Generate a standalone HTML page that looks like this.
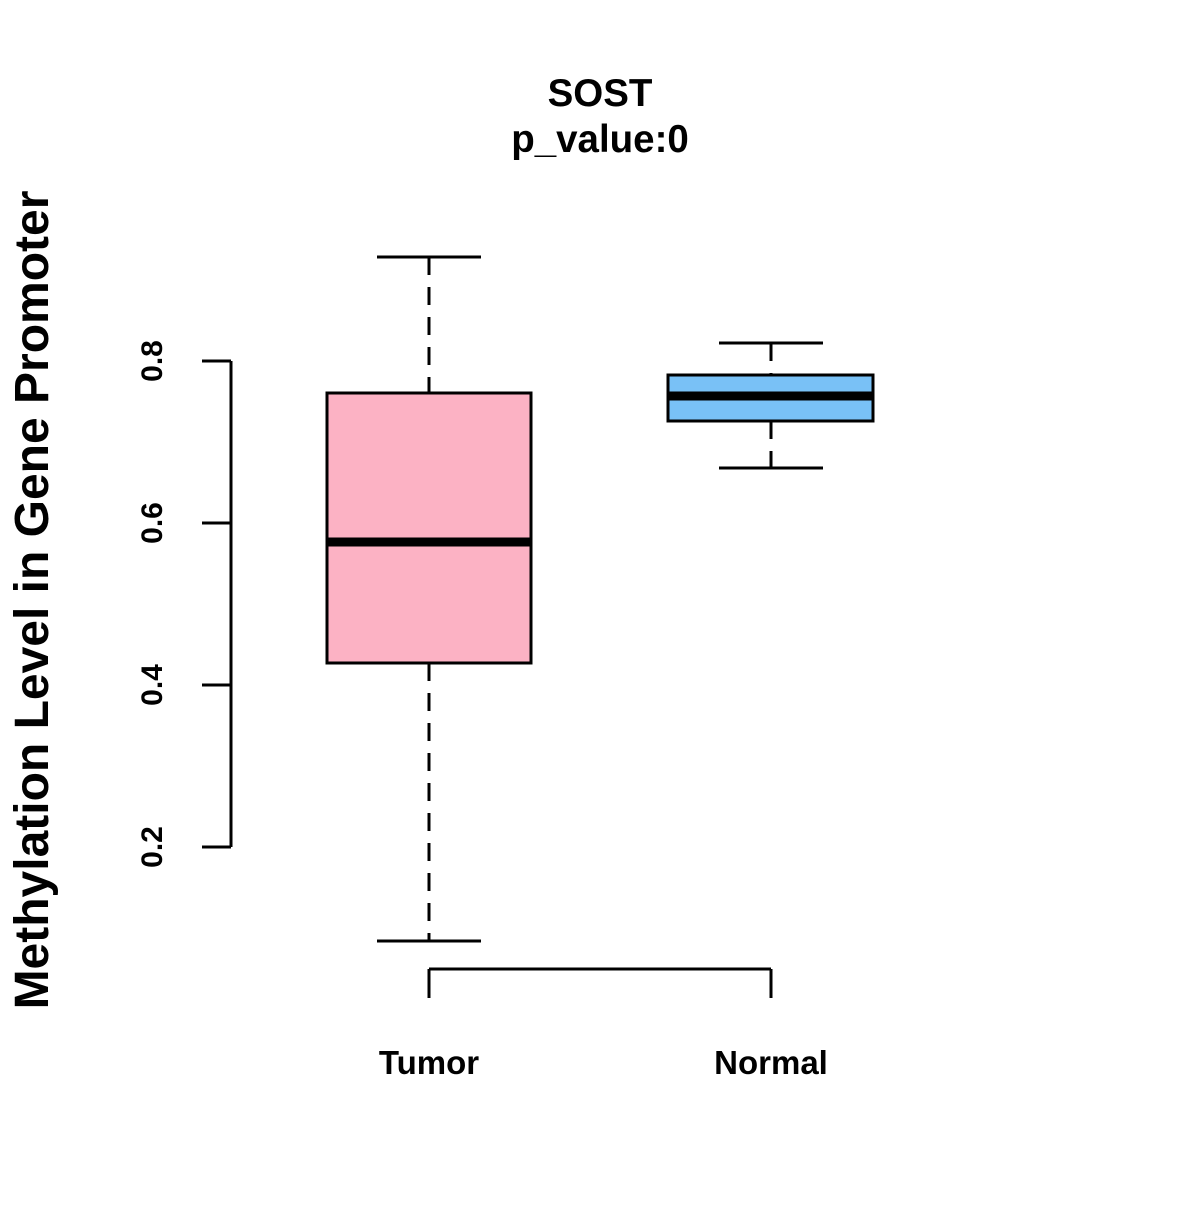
<!DOCTYPE html>
<html><head><meta charset="utf-8"><style>html,body{margin:0;padding:0;background:#fff}</style></head>
<body>
<svg width="1200" height="1200" xmlns="http://www.w3.org/2000/svg" font-family="Liberation Sans, sans-serif" font-weight="bold">
<rect width="1200" height="1200" fill="#fff"/>
<text x="600" y="106" font-size="38.5" text-anchor="middle">SOST</text>
<text x="600" y="152" font-size="38.5" text-anchor="middle">p_value:0</text>
<g stroke="#000" stroke-width="3" fill="none">
<line x1="231" y1="361" x2="231" y2="847"/>
<line x1="202" y1="361" x2="231" y2="361"/>
<line x1="202" y1="523" x2="231" y2="523"/>
<line x1="202" y1="685" x2="231" y2="685"/>
<line x1="202" y1="847" x2="231" y2="847"/>
<line x1="429" y1="969" x2="771" y2="969"/>
<line x1="429" y1="969" x2="429" y2="998"/>
<line x1="771" y1="969" x2="771" y2="998"/>
<line x1="429" y1="257" x2="429" y2="393" stroke-dasharray="18,12"/>
<line x1="429" y1="663" x2="429" y2="941" stroke-dasharray="18,12"/>
<line x1="377" y1="257" x2="481" y2="257"/>
<line x1="377" y1="941" x2="481" y2="941"/>
<rect x="327" y="393" width="204" height="270" fill="#fcb2c4"/>
<line x1="327" y1="542" x2="531" y2="542" stroke-width="9"/>
<line x1="771" y1="343" x2="771" y2="375" stroke-dasharray="18,12"/>
<line x1="771" y1="421" x2="771" y2="468" stroke-dasharray="18,12"/>
<line x1="719" y1="343" x2="823" y2="343"/>
<line x1="719" y1="468" x2="823" y2="468"/>
<rect x="668" y="375" width="205" height="46" fill="#79c1f6"/>
<line x1="668" y1="396" x2="873" y2="396" stroke-width="9"/>
</g>
<g font-size="30" text-anchor="middle">
<text transform="translate(162,361) rotate(-90)">0.8</text>
<text transform="translate(162,523) rotate(-90)">0.6</text>
<text transform="translate(162,685) rotate(-90)">0.4</text>
<text transform="translate(162,847) rotate(-90)">0.2</text>
</g>
<text x="429" y="1074" font-size="33" text-anchor="middle">Tumor</text>
<text x="771" y="1074" font-size="33" text-anchor="middle">Normal</text>
<text transform="translate(48,600) rotate(-90)" font-size="48" text-anchor="middle">Methylation Level in Gene Promoter</text>
</svg>
</body></html>
